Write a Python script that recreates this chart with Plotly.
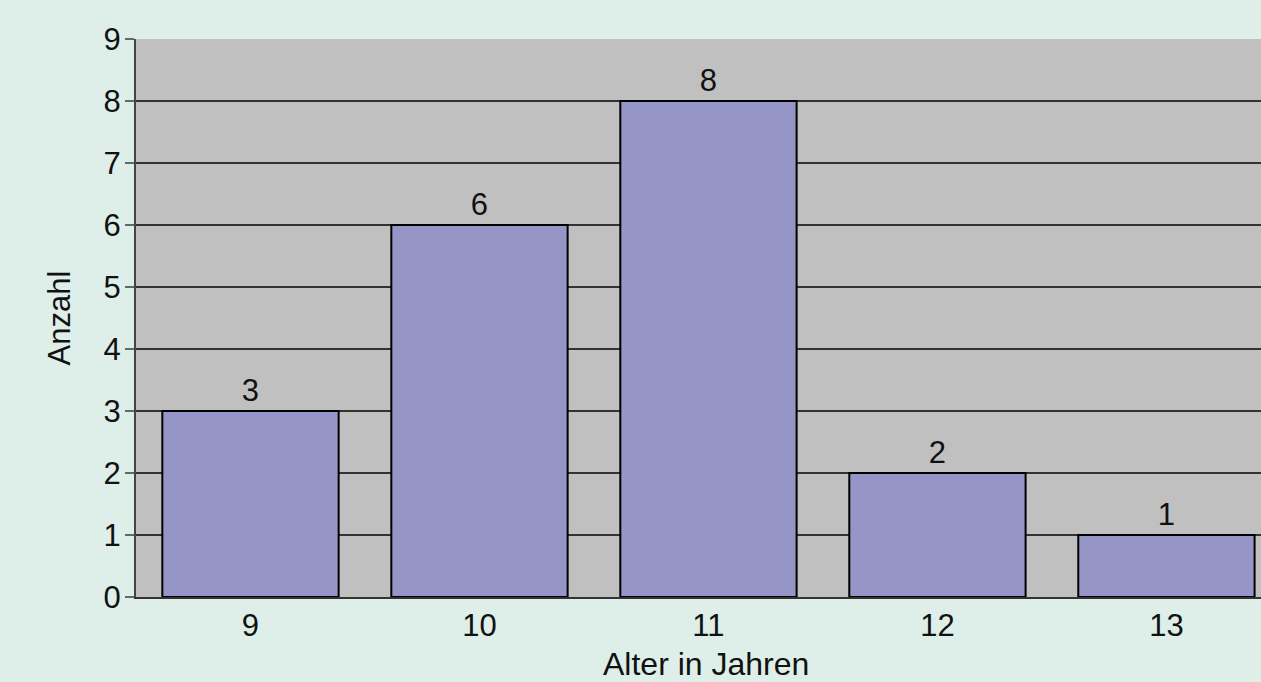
import plotly.graph_objects as go

categories = ["9", "10", "11", "12", "13"]
counts = [3, 6, 8, 2, 1]
y_ticks = [0, 1, 2, 3, 4, 5, 6, 7, 8, 9]
x_title = "Alter in Jahren"
y_title = "Anzahl"

SANS = "Liberation Sans, Arial, Helvetica, sans-serif"

fig = go.Figure()
fig.add_trace(go.Bar(
    x=categories, y=counts,
    marker=dict(color="#9595c8", line=dict(color="#000000", width=2)),
    text=[str(c) for c in counts], textposition="outside",
    textfont=dict(family=SANS, size=31, color="#111111"),
    cliponaxis=False,
))

fig.update_layout(
    width=1261, height=682,
    margin=dict(l=136, r=0, t=39, b=85),
    paper_bgcolor="#deeee8",
    plot_bgcolor="#c0c0c0",
    bargap=0.23,
    showlegend=False,
    font=dict(family=SANS, size=31, color="#111111"),
    xaxis=dict(
        type="category", range=[-0.5, 4.413],
        automargin=False,
        showline=True, linecolor="#333333", linewidth=2,
        ticks="", showgrid=False,
        tickfont=dict(family=SANS, size=31),
    ),
    yaxis=dict(
        range=[0, 9], tickvals=y_ticks,
        automargin=False,
        showline=True, linecolor="#444444", linewidth=2,
        ticks="outside", ticklen=9, tickcolor="#666666", tickwidth=2,
        ticklabelstandoff=-2,
        showgrid=True, gridcolor="#333333", gridwidth=1.5,
        zeroline=False,
        tickfont=dict(family=SANS, size=31),
        title=dict(text=y_title, standoff=24,
                   font=dict(family=SANS, size=31)),
    ),
    annotations=[dict(
        text=x_title, xref="paper", yref="paper",
        x=0.507, y=-0.085, xanchor="center", yanchor="top",
        showarrow=False, font=dict(family=SANS, size=32, color="#111111"),
    )],
)

fig.write_html("out.html")
